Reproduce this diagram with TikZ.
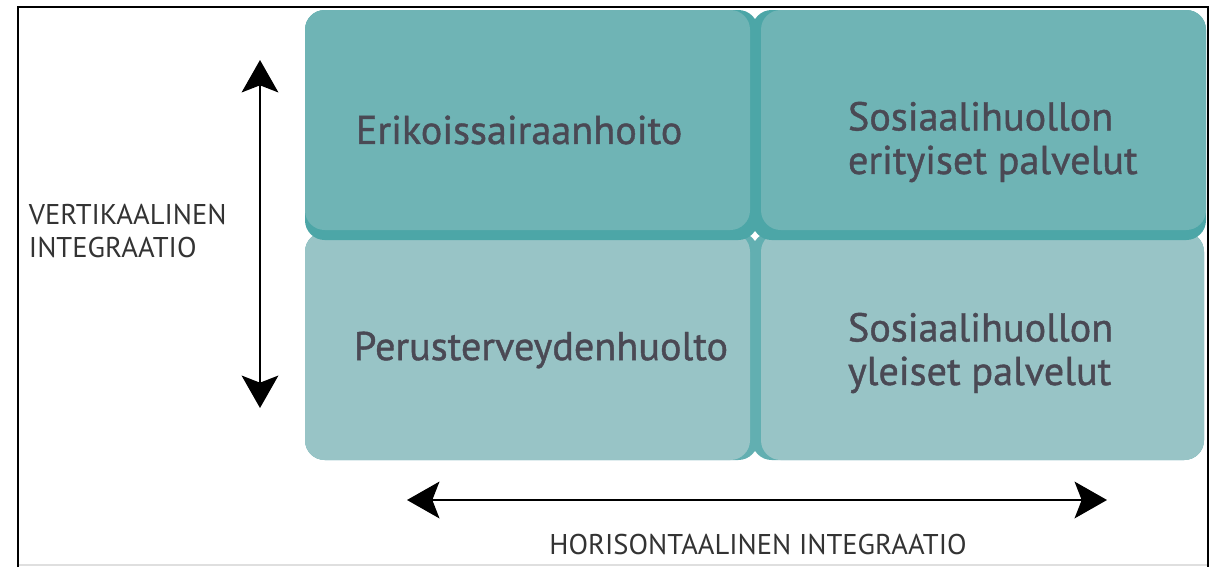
\documentclass[tikz,border=0pt]{standalone}
\usepackage{fontspec}
\setmainfont{PT Sans}
\newfontfamily\boxfont[FakeBold=1]{PT Sans}
\usepackage{tikz}
\usetikzlibrary{arrows.meta,positioning}

\definecolor{topface}{HTML}{6FB4B5}
\definecolor{topedge}{HTML}{4CA6A7}
\definecolor{lowface}{HTML}{98C4C6}
\definecolor{lowedge}{HTML}{62AFB1}
\definecolor{boxink}{HTML}{4A4954}
\definecolor{labelink}{HTML}{333333}

\begin{document}
\begin{tikzpicture}[x=0.025cm,y=-0.025cm,
    boxtext/.style={anchor=west,align=left,text=boxink,font=\boxfont\fontsize{28.6}{31}\selectfont},
    axislabel/.style={align=left,text=labelink,font=\fontsize{20.3}{23.5}\selectfont},
    axis/.style={line width=2pt,{Stealth[length=23pt,width=26pt,inset=5pt]}-{Stealth[length=23pt,width=26pt,inset=5pt]}}]
  \useasboundingbox (0,0) rectangle (1218,567);
  \fill[white] (0,0) rectangle (1218,567);

  % frame
  \draw[gray!25,line width=1pt] (18,565) -- (1208,565);
  \draw[line width=2pt] (18,567) -- (18,7) -- (1208,7) -- (1208,567);

  % lower row
  \fill[lowedge,rounded corners=14pt] (305,232) rectangle (758,460);
  \fill[lowface,rounded corners=14pt] (305,232) rectangle (750,460);
  \fill[lowedge,rounded corners=14pt] (752,232) rectangle (1204,460);
  \fill[lowface,rounded corners=14pt] (761,232) rectangle (1204,460);

  % upper row
  \fill[topedge,rounded corners=14pt] (305,10) rectangle (758,240);
  \fill[topface,rounded corners=14pt] (305,10) rectangle (750,230);
  \fill[topedge,rounded corners=14pt] (752,10) rectangle (1206,240);
  \fill[topface,rounded corners=14pt] (761,10) rectangle (1206,230);

  \node[boxtext] (erik) at (351,130) {Erikoissairaanhoito};
  \node[boxtext] (sos_er) at (843,142) {Sosiaalihuollon\\erityiset palvelut};
  \node[boxtext] (perus) at (349,350) {Perusterveydenhuolto};
  \node[boxtext] (sos_yl) at (843,353) {Sosiaalihuollon\\yleiset palvelut};

  \node[axislabel,anchor=west] (vert) at (24,231) {VERTIKAALINEN\\INTEGRAATIO};
  \node[axislabel] (hori) at (758,545) {HORISONTAALINEN INTEGRAATIO};

  \coordinate (v_top) at (260,60);
  \coordinate (v_bot) at (260,408);
  \coordinate (h_left) at (407,500);
  \coordinate (h_right) at (1107,500);

  \draw[axis] (v_bot) -- (v_top);
  \draw[axis] (h_left) -- (h_right);
\end{tikzpicture}
\end{document}
